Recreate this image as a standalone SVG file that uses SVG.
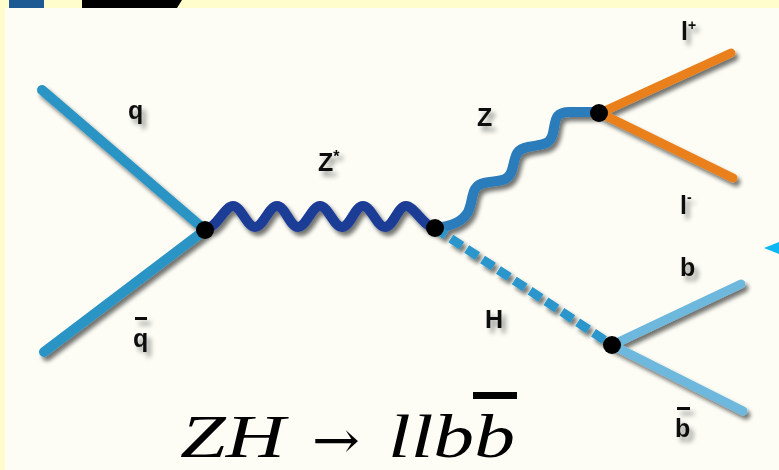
<svg xmlns="http://www.w3.org/2000/svg" width="779" height="470" viewBox="0 0 779 470">
<defs>
<filter id="sh" x="-20%" y="-20%" width="140%" height="140%">
<feGaussianBlur in="SourceAlpha" stdDeviation="2"/>
<feOffset dx="3" dy="4" result="b"/>
<feComponentTransfer in="b" result="c"><feFuncA type="linear" slope="0.55"/></feComponentTransfer>
<feMerge><feMergeNode in="c"/><feMergeNode in="SourceGraphic"/></feMerge>
</filter>
<filter id="tsh" x="-50%" y="-50%" width="200%" height="200%">
<feGaussianBlur in="SourceAlpha" stdDeviation="2.5"/>
<feOffset dx="4" dy="5" result="b"/>
<feComponentTransfer in="b" result="c"><feFuncA type="linear" slope="0.4"/></feComponentTransfer>
<feMerge><feMergeNode in="c"/><feMergeNode in="SourceGraphic"/></feMerge>
</filter>
</defs>
<style>
.ln{fill:none;stroke-linecap:round;stroke-linejoin:round;stroke-width:10}
.q{stroke:#2B95C5}
.zs{stroke:#1F3C95}
.z{stroke:#2C7BBA}
.h{stroke:#2A96CC;stroke-dasharray:13 6;stroke-linecap:butt;stroke-width:9}
.bq{stroke:#6DB8DC;stroke-width:9}
.l{stroke:#E9801E;stroke-width:9}
.v{fill:#000}
.lab{font-family:"Liberation Sans",Arial,sans-serif;font-weight:bold;font-size:25px;fill:#111}
.f{font-family:"Liberation Serif","Times New Roman",serif;font-size:62px;fill:#000}
</style>
<rect x="0" y="0" width="779" height="470" fill="#FFFDCC"/>
<rect x="5" y="8" width="774" height="462" fill="#FDFDF6"/>
<rect x="9" y="0" width="35" height="8" fill="#1D5A94"/>
<polygon points="82,0 182,0 177,8 82,8" fill="#000"/>
<polygon points="764,248 779,242 779,254" fill="#0DB8F2"/>

<g id="connectors" filter="url(#sh)">
<line class="ln q" x1="42" y1="90" x2="205" y2="230"/>
<line class="ln q" x1="44" y1="352" x2="205" y2="230"/>
<path class="ln zs" d="M207,228 C216,228 225,206 233,206 S247,227 255,227 S269,206 277,206 S290,227 298,227 S312,206 320,206 S334,227 342,227 S355,206 363,206 S377,227 385,227 S398,206 406,206 S425,228 435,228"/>
<path class="ln z" d="M435,228 C452,226 462,222 468,212 C474,200 470,186 484,183 C498,180 508,183 512,170 C516,157 514,150 528,147 C542,144 550,146 553,133 C556,120 554,112 570,112 L598,112"/>
<line class="ln h" x1="435" y1="228" x2="612" y2="345"/>
<line class="ln l" x1="600" y1="113" x2="731" y2="53"/>
<line class="ln l" x1="600" y1="113" x2="733" y2="178"/>
<line class="ln bq" x1="612" y1="345" x2="741" y2="284"/>
<line class="ln bq" x1="612" y1="345" x2="743" y2="411"/>
</g>

<g id="v1"><circle class="v" cx="205" cy="230" r="9"/></g>
<g id="v2"><circle class="v" cx="435" cy="228" r="9"/></g>
<g id="v3"><circle class="v" cx="599" cy="113" r="9"/></g>
<g id="v4"><circle class="v" cx="612" cy="345" r="9"/></g>

<g id="labels" filter="url(#tsh)">
<text class="lab" x="128" y="119">q</text>
<text class="lab" x="133" y="347">q</text>
<rect x="135" y="317" width="12" height="3" fill="#111"/>
<text class="lab" x="318" y="171">Z<tspan font-size="16" dy="-9">*</tspan></text>
<text class="lab" x="477" y="126">Z</text>
<text class="lab" x="485" y="328">H</text>
<text class="lab" x="681" y="40">l<tspan font-size="14" dy="-10">+</tspan></text>
<text class="lab" x="680" y="214">l<tspan font-size="14" dy="-12">-</tspan></text>
<text class="lab" x="680" y="276">b</text>
<text class="lab" x="675" y="437">b</text>
<rect x="677" y="407" width="13" height="3" fill="#111"/>
</g>

<g id="formula">
<text class="f" x="180" y="457" font-style="italic" textLength="105" lengthAdjust="spacingAndGlyphs">ZH</text>
<text x="312" y="458" font-family="'DejaVu Serif',serif" font-size="52" textLength="48" lengthAdjust="spacingAndGlyphs">→</text>
<text class="f" x="388" y="457" font-style="italic" textLength="127" lengthAdjust="spacingAndGlyphs">llbb</text>
<rect x="473" y="392" width="44" height="7" fill="#000"/>
</g>
</svg>
